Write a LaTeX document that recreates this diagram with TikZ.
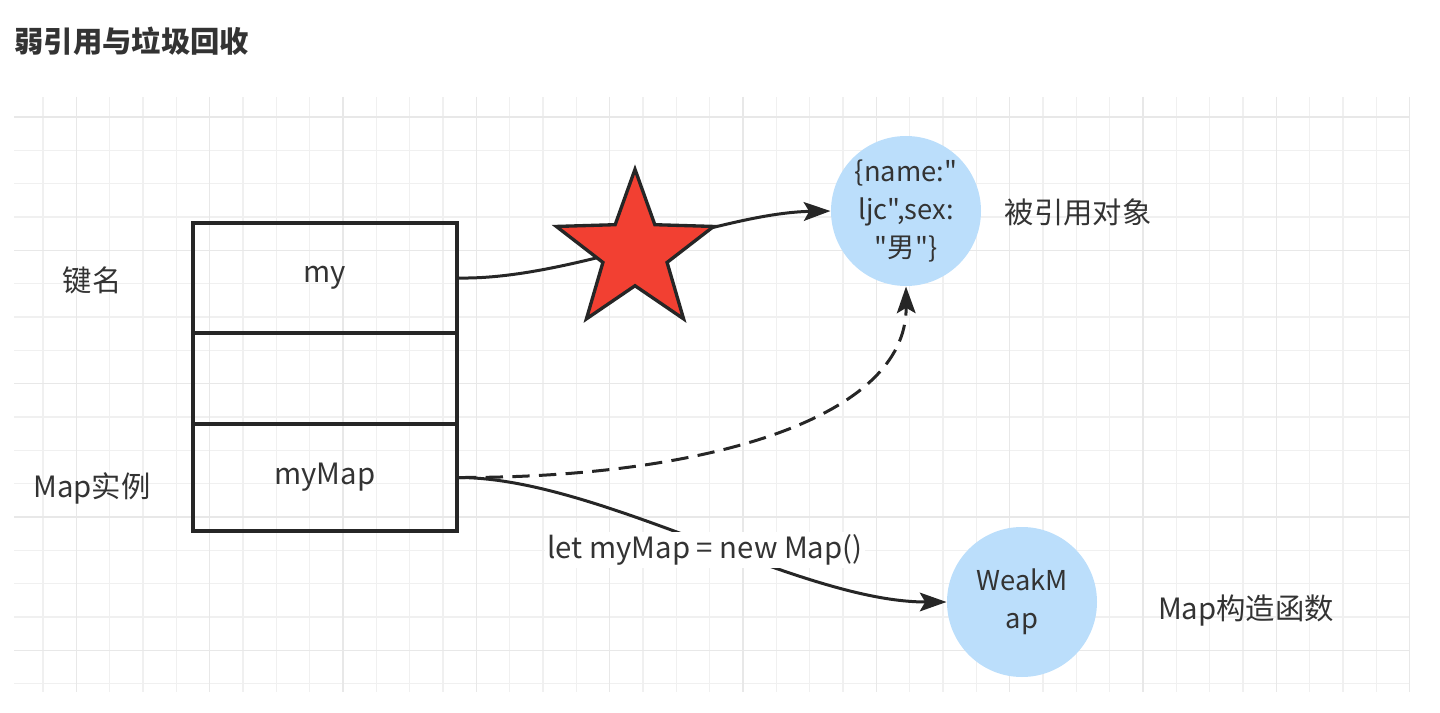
\documentclass[tikz,border=0pt]{standalone}
\usepackage{fontspec}
\setmainfont{Noto Sans CJK SC}[Ligatures=TeXOff]
\usetikzlibrary{shapes.geometric,arrows.meta}
\definecolor{gridMinor}{RGB}{240,240,240}
\definecolor{gridMajor}{RGB}{232,232,232}
\definecolor{objBlue}{RGB}{187,222,251}
\definecolor{starRed}{RGB}{242,64,50}
\definecolor{textGray}{RGB}{51,51,51}
\tikzset{every picture/.style={line width=0.75pt}}
\tikzset{
  cell/.style={draw=black!85, line width=3pt, minimum width=198pt, inner sep=0pt, font=\fontsize{22}{26}\selectfont, text=textGray},
  objcircle/.style={circle, fill=objBlue, minimum size=112.5pt, inner sep=0pt, align=center, font=\fontsize{20.5}{28.5}\selectfont, text=textGray},
  lbl/.style={font=\fontsize{22}{26}\selectfont, text=textGray, inner sep=0.75pt},
  link/.style={draw=black!85, line width=2.25pt, -{Stealth[length=20pt,width=14pt,inset=4pt]}},
}

\begin{document}
\begin{tikzpicture}[x=0.75pt,y=0.75pt,yscale=-1,xscale=1]
\path[use as bounding box] (0,0) rectangle (1440,713);

%Grid
\foreach \i in {0,...,41} \draw[gridMinor, line width=1pt] ({43+\i*33.33},97) -- ({43+\i*33.33},692);
\foreach \j in {0,...,17} \draw[gridMinor, line width=1pt] (14,{117+\j*33.33}) -- (1410,{117+\j*33.33});
\foreach \i in {1,5,...,41} \draw[gridMajor, line width=1pt] ({43+\i*33.33},97) -- ({43+\i*33.33},692);
\foreach \j in {0,4,...,17} \draw[gridMajor, line width=1pt] (14,{117+\j*33.33}) -- (1410,{117+\j*33.33});

% Title
\node[anchor=west, inner sep=0pt, font=\fontsize{22}{26}\selectfont\bfseries, text=textGray] (title) at (14,41) {弱引用与垃圾回收};

%Shape: Map cells
\node[cell, minimum height=82.5pt] (cellMy) at (325,278) {my};
\node[cell, minimum height=68.25pt] (cellMid) at (325,378.5) {};
\node[cell, minimum height=80.25pt] (cellMap) at (325,477.5) {myMap};

%Shape: Circles
\node[objcircle] (objRef) at (906,211) {\{name:"\\ljc",sex:\\"男"\}};
\node[objcircle] (objWeak) at (1022,602) {WeakM\\ap};

%Connectors
\draw[link] (cellMy.east) .. controls (570,280) and (720,213) .. (objRef.west);
\draw[link, dash pattern=on 13pt off 7pt] (cellMap.east) .. controls (700,478) and (907,420) .. (objRef.south);
\draw[link] (cellMap.east) .. controls (600,478) and (800,602) .. (objWeak.west);

%Shape: Star
\node[star, star points=5, star point ratio=2.45, minimum size=124pt, inner sep=0pt, fill=starRed, draw=black!85, line width=2.5pt] (cross) at (635,252) {};

% Text Node
\node[lbl, fill=white, inner sep=2pt] (newMap) at (705,550) {let myMap = new Map()};
% Text Node
\node[lbl] (keyLbl) at (92,280) {键名};
% Text Node
\node[lbl] (mapLbl) at (92,488) {Map实例};
% Text Node
\node[lbl] (refLbl) at (1078,212) {被引用对象};
% Text Node
\node[lbl] (ctorLbl) at (1246,611) {Map构造函数};

\end{tikzpicture}
\end{document}
